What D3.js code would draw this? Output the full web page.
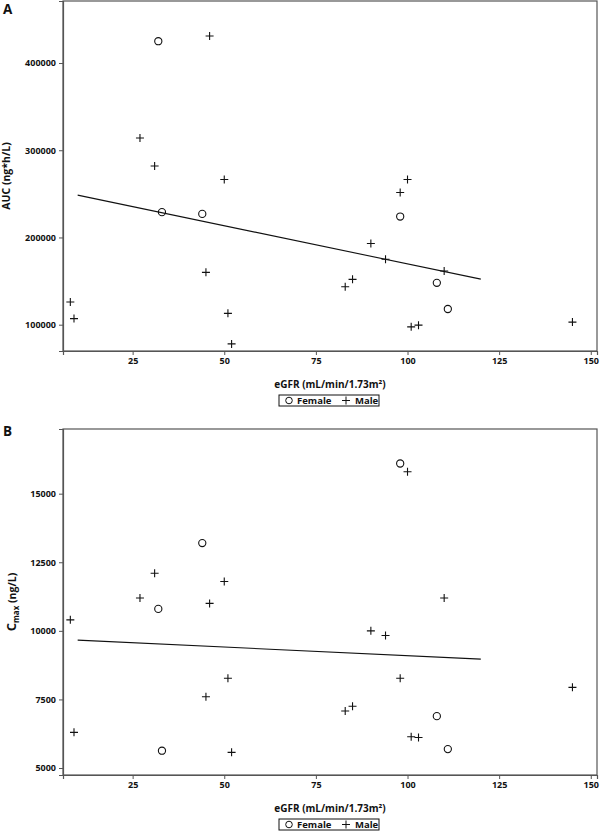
<!DOCTYPE html>
<html>
<head>
<meta charset="utf-8">
<script src="https://cdn.jsdelivr.net/npm/d3@7"></script>
<style>
  html, body { margin: 0; padding: 0; background: #fff; }
  svg { display: block; }
  text { font-family: "Open Sans", "DejaVu Sans", sans-serif; font-weight: bold; fill: #111; }
</style>
</head>
<body>
<svg id="chart" width="600" height="832"></svg>
<script>
// ---- Data ----
const sexes = ["Female", "Male"];
const egfr   = [32, 33, 44, 98, 108, 111, 46, 27, 31, 50, 100, 98, 45, 8, 9, 51, 52, 90, 94, 110, 85, 83, 101, 103, 145];
const sex    = ["Female","Female","Female","Female","Female","Female",
                "Male","Male","Male","Male","Male","Male","Male","Male","Male","Male","Male","Male","Male","Male","Male","Male","Male","Male","Male"];
const aucValues  = [425000, 229000, 227000, 224000, 148000, 118000,
                    431000, 314000, 282000, 266500, 266500, 251500, 160000, 126000, 107000, 113000, 78000, 193000, 175000, 161500, 152000, 143500, 97500, 99500, 103000];
const cmaxValues = [10800, 5630, 13200, 16100, 6890, 5690,
                    11000, 11200, 12100, 11800, 15800, 8270, 7600, 10400, 6300, 8270, 5570, 10000, 9830, 11200, 7250, 7080, 6140, 6110, 7940];
// fitted regression line end points (x, y)
const fitX    = [10, 120];
const aucFit  = [248500, 152200];
const cmaxFit = [9660, 8970];

const xTicks    = [25, 50, 75, 100, 125, 150];
const aucTicks  = [100000, 200000, 300000, 400000];
const cmaxTicks = [5000, 7500, 10000, 12500, 15000];
const xDomain    = [6.0, 151.7];
const aucDomain  = [69840, 471100];
const cmaxDomain = [4745, 17358];
const xTitle = "eGFR (mL/min/1.73m²)";

const svg = d3.select("#chart");
const left = 63, right = 597;

function panel(cfg) {
  const g = svg.append("g");
  const x = d3.scaleLinear().domain(xDomain).range([left, right]);
  const y = d3.scaleLinear().domain(cfg.yDomain).range([cfg.bottom, cfg.top]);

  // frame
  g.append("rect").attr("x", left).attr("y", cfg.top)
    .attr("width", right - left).attr("height", cfg.bottom - cfg.top)
    .attr("fill", "none").attr("stroke", "#555").attr("stroke-width", 1.2);

  // axes
  const xa = g.append("g").attr("transform", `translate(0,${cfg.bottom})`)
    .call(d3.axisBottom(x).tickValues(xTicks).tickSize(4).tickPadding(3).tickFormat(d3.format("d")));
  const ya = g.append("g").attr("transform", `translate(${left},0)`)
    .call(d3.axisLeft(y).tickValues(cfg.yTicks).tickSize(4).tickPadding(3).tickFormat(d3.format("d")));
  [xa, ya].forEach(a => {
    a.select(".domain").attr("stroke", "#555").attr("stroke-width", 1.2);
    a.selectAll(".tick line").attr("stroke", "#555");
    a.selectAll(".tick text").attr("font-family", "'Open Sans', sans-serif")
      .attr("font-weight", "bold").attr("font-size", 9).attr("fill", "#111");
  });

  // regression line
  g.append("line")
    .attr("x1", x(fitX[0])).attr("y1", y(cfg.fit[0]))
    .attr("x2", x(fitX[1])).attr("y2", y(cfg.fit[1]))
    .attr("stroke", "#111").attr("stroke-width", 1.1);

  // points
  const pts = egfr.map((e, i) => ({ x: e, y: cfg.values[i], s: sex[i] }));
  pts.forEach(p => {
    const px = x(p.x), py = y(p.y);
    if (p.s === "Female") {
      g.append("circle").attr("cx", px).attr("cy", py).attr("r", 3.6)
        .attr("fill", "none").attr("stroke", "#111").attr("stroke-width", 1.1);
    } else {
      g.append("path").attr("d", `M${px-4},${py}H${px+4}M${px},${py-4}V${py+4}`)
        .attr("stroke", "#111").attr("stroke-width", 1.1);
    }
  });

  // panel letter
  svg.append("text").attr("x", 3).attr("y", cfg.letterY)
    .attr("font-family", "'Liberation Sans', Arial, sans-serif").attr("font-weight", "bold")
    .attr("font-size", 13.5).attr("fill", "#000").text(cfg.letter);

  // x title
  svg.append("text").attr("x", (left + right) / 2).attr("y", cfg.bottom + 37)
    .attr("text-anchor", "middle").attr("font-size", 10).text(xTitle);

  // y title
  const yt = svg.append("text")
    .attr("transform", `translate(${cfg.yTitleX},${(cfg.top + cfg.bottom) / 2}) rotate(-90)`)
    .attr("text-anchor", "middle").attr("font-size", 10.5);
  cfg.yTitle(yt);

  // legend
  const lg = svg.append("g").attr("transform", `translate(279,${cfg.bottom + 44})`);
  lg.append("rect").attr("x", 0).attr("y", 0).attr("width", 100).attr("height", 11)
    .attr("fill", "none").attr("stroke", "#111").attr("stroke-width", 1);
  lg.append("circle").attr("cx", 10).attr("cy", 5.5).attr("r", 3.3)
    .attr("fill", "none").attr("stroke", "#111").attr("stroke-width", 1);
  lg.append("text").attr("x", 18).attr("y", 9).attr("font-size", 9.5).text(sexes[0]);
  lg.append("path").attr("d", "M63,5.5H71M67,1.5V9.5").attr("stroke", "#111").attr("stroke-width", 1);
  lg.append("text").attr("x", 76).attr("y", 9).attr("font-size", 9.5).text(sexes[1]);
}

panel({
  top: 1, bottom: 351, yDomain: aucDomain, yTicks: aucTicks, values: aucValues, fit: aucFit,
  letter: "A", letterY: 14, yTitleX: 10,
  yTitle: t => t.text("AUC (ng*h/L)")
});
panel({
  top: 429, bottom: 775, yDomain: cmaxDomain, yTicks: cmaxTicks, values: cmaxValues, fit: cmaxFit,
  letter: "B", letterY: 436, yTitleX: 15.5,
  yTitle: t => {
    t.append("tspan").attr("font-size", 13).text("C");
    t.append("tspan").attr("font-size", 8).attr("dy", 3).text("max");
    t.append("tspan").attr("dy", -3).text(" (ng/L)");
  }
});
</script>
</body>
</html>
